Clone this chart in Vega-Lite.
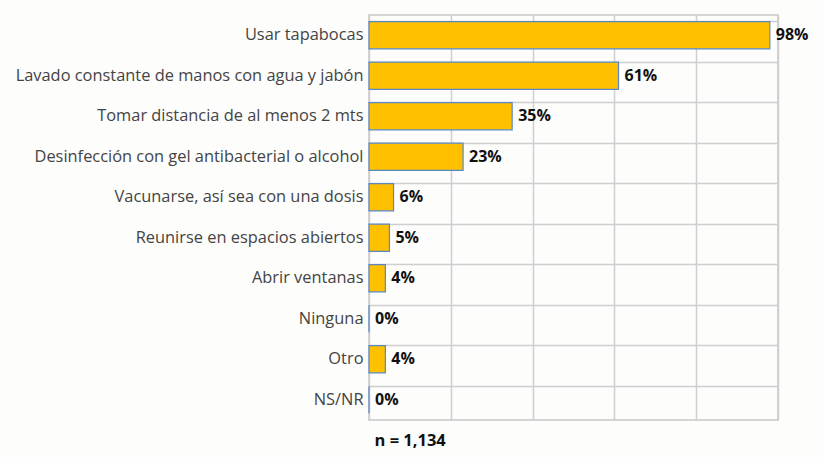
{
  "$schema": "https://vega.github.io/schema/vega-lite/v6.json",
  "autosize": "none",
  "width": 409,
  "height": 405,
  "padding": {"left": 369, "top": 15, "right": 46, "bottom": 37},
  "background": "#fdfdfc",
  "config": {
    "view": {"stroke": "#c8c8c8", "strokeWidth": 1.5},
    "font": "Open Sans"
  },
  "data": {
    "values": [
      {"item": "Usar tapabocas", "pct": 0.98},
      {"item": "Lavado constante de manos con agua y jabón", "pct": 0.61},
      {"item": "Tomar distancia de al menos 2 mts", "pct": 0.35},
      {"item": "Desinfección con gel antibacterial o alcohol", "pct": 0.23},
      {"item": "Vacunarse, así sea con una dosis", "pct": 0.06},
      {"item": "Reunirse en espacios abiertos", "pct": 0.05},
      {"item": "Abrir ventanas", "pct": 0.04},
      {"item": "Ninguna", "pct": 0},
      {"item": "Otro", "pct": 0.04},
      {"item": "NS/NR", "pct": 0}
    ]
  },
  "encoding": {
    "y": {
      "field": "item",
      "type": "nominal",
      "sort": null,
      "scale": {"paddingInner": 0.33, "paddingOuter": 0.165},
      "axis": {
        "title": null,
        "ticks": false,
        "domain": false,
        "grid": true,
        "bandPosition": 0,
        "gridColor": "#cfcfcf",
        "gridWidth": 1.5,
        "labelFont": "Open Sans",
        "labelFontSize": 16.4,
        "labelColor": "#444444",
        "labelPadding": 6,
        "labelLimit": 400
      }
    },
    "x": {
      "field": "pct",
      "type": "quantitative",
      "scale": {"domain": [0, 1]},
      "axis": {
        "values": [0, 0.2, 0.4, 0.6, 0.8, 1],
        "labels": false,
        "ticks": false,
        "domain": false,
        "gridColor": "#cfcfcf",
        "gridWidth": 1.5,
        "title": "n = 1,134",
        "titleAnchor": "start",
        "titleAlign": "left",
        "titleBaseline": "middle",
        "titleX": 5,
        "titleY": 20,
        "titleFontSize": 16.5,
        "titleFontWeight": "bold",
        "titleColor": "#111111",
        "titleFont": "Open Sans"
      }
    }
  },
  "layer": [
    {
      "mark": {"type": "bar", "color": "#FFC000", "stroke": "#5b87c5", "strokeWidth": 1.2}
    },
    {
      "mark": {"type": "text", "align": "left", "dx": 6, "fontWeight": "bold", "fontSize": 16, "color": "#111111", "font": "Open Sans"},
      "encoding": {"text": {"field": "pct", "type": "quantitative", "format": ".0%"}}
    }
  ]
}
